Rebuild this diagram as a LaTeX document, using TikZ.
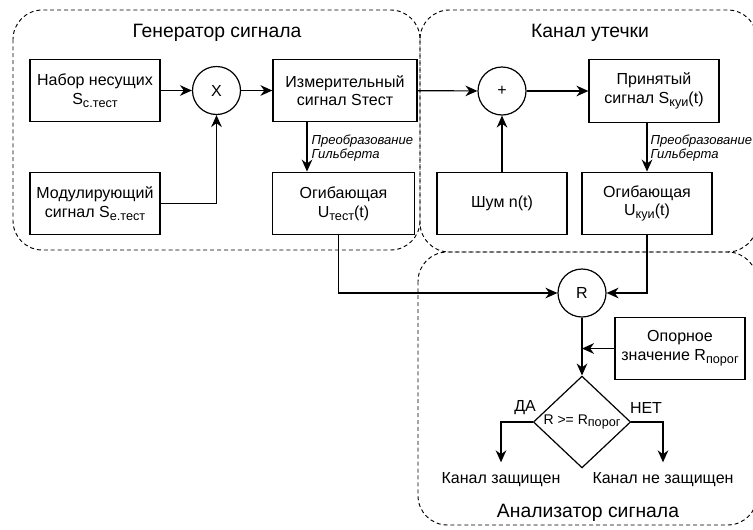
\documentclass[tikz,border=0pt]{standalone}
\usepackage{fontspec}
\setmainfont{Liberation Sans}
\usetikzlibrary{shapes.geometric,arrows.meta}

\newcommand{\idx}[1]{\raisebox{-0.35ex}{\fontsize{9.5}{10}\selectfont #1}}

\begin{document}
\begin{tikzpicture}[x=0.75pt,y=-0.75pt, line width=0.9pt,
    >={Stealth[length=9pt,width=8pt]},
    every node/.style={font=\fontsize{12}{14}\selectfont},
    block/.style={draw, align=center, minimum width=97.5pt, minimum height=47pt, inner sep=2pt},
    joint/.style={draw, circle, minimum size=36pt, inner sep=0pt},
    zone/.style={draw, line width=0.7pt, dash pattern=on 3pt off 2.2pt, rounded corners=22pt},
    zonetitle/.style={font=\fontsize{14.5}{16}\selectfont},
    hilb/.style={font=\fontsize{9.8}{10}\selectfont\itshape, align=left, anchor=west, inner sep=0pt},
    verdict/.style={inner xsep=0pt, inner ysep=7.5pt}]
    \useasboundingbox (0,0) rectangle (753,529);

    % dashed zones
    \draw[zone] (13,10) rectangle (420,250);
    \draw[zone] (420,10) rectangle (757,252);
    \draw[zone] (418,252) rectangle (757,525);
    \node[zonetitle] (gentitle) at (217,33) {Генератор сигнала};
    \node[zonetitle] (chantitle) at (590,33) {Канал утечки};
    \node[zonetitle] (antitle) at (588,513) {Анализатор сигнала};

    % signal generator
    \node[block] (nab) at (95,90.5) {Набор несущих\\S\idx{с.тест}};
    \node[joint] (mul) at (216.5,90.5) {X};
    \node[block, minimum width=108pt] (izm) at (345,90.5) {Измерительный\\сигнал Sтест};
    \node[block] (mod) at (95,203.5) {Модулирующий\\сигнал S\idx{е.тест}};
    \node[block, minimum width=106pt] (ogt) at (343.5,203.5) {Огибающая\\U\idx{тест}(t)};

    % leakage channel
    \node[joint] (sum) at (502,91) {+};
    \node[block] (prin) at (654,91) {Принятый\\сигнал S\idx{куи}(t)};
    \node[block] (shum) at (502,203.5) {Шум n(t)};
    \node[block] (ogk) at (647,203.5) {Огибающая\\U\idx{куи}(t)};

    % signal analyser
    \node[joint] (r) at (582,293) {R};
    \node[block] (opor) at (680,348.5) {Опорное\\значение R\idx{порог}};
    \node[draw, diamond, minimum width=73pt, minimum height=60pt, inner sep=0pt,
          font=\fontsize{10.5}{12}\selectfont] (cmp) at (582,422) {R >= R\idx{порог}};
    \node (da) at (525,408) {ДА};
    \node (net) at (646,408) {НЕТ};
    \node[verdict] (safe) at (501,480) {Канал защищен};
    \node[verdict] (unsafe) at (663,480) {Канал не защищен};

    % connectors
    \draw[->] (nab) -- (mul);
    \draw[->] (mul) -- (izm);
    \draw[->] (mod) -| (mul);
    \draw[->] ([xshift=-28.5pt]izm.south) -- ([xshift=-28.5pt]izm.south |- ogt.north);
    \node[hilb] (hilb1) at (311,148) {Преобразование\\Гильберта};
    \draw[->] (izm) -- (sum);
    \draw[->] (sum) -- (prin);
    \draw[->] (shum) -- (sum);
    \draw[->] (ogk.north |- prin.south) -- (ogk.north);
    \node[hilb] (hilb2) at (650,148) {Преобразование\\Гильберта};
    \draw[->] ([xshift=-4pt]ogt.south) |- (r);
    \draw[->] (ogk.south) |- (r);
    \draw[->] (r) -- (cmp);
    \draw[->] (opor.west) -- (opor.west -| r);
    \draw[->] (cmp.west) -| (safe.north);
    \draw[->] (cmp.east) -| (unsafe.north);
\end{tikzpicture}
\end{document}
